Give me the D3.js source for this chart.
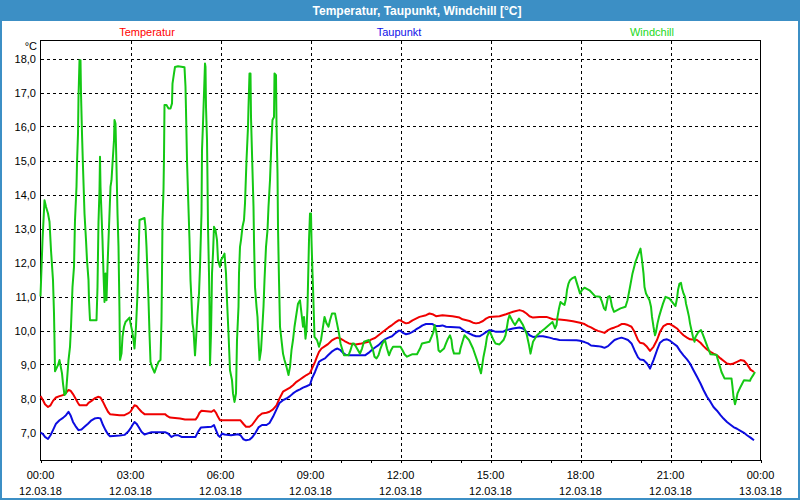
<!DOCTYPE html>
<html><head><meta charset="utf-8">
<script src="https://cdn.jsdelivr.net/npm/d3@7"></script>
<style>html,body{margin:0;padding:0;background:#fff;}svg{display:block;}</style>
</head><body>
<script>
// ---- DATA (time in minutes since 12.03.18 00:00, value in °C) ----
const temperatur = [[0,8.07],[5,7.95],[9,7.83],[15,7.75],[20,7.80],[25,7.93],[31,8.03],[38,8.07],[45,8.10],[51,8.17],[56,8.25],[60,8.23],[65,8.13],[70,8.00],[75,7.87],[78,7.80],[92,7.80],[96,7.87],[102,7.93],[108,8.00],[115,8.05],[120,8.03],[125,7.90],[130,7.75],[135,7.61],[139,7.54],[158,7.51],[168,7.51],[175,7.56],[180,7.61],[184,7.71],[188,7.80],[192,7.78],[196,7.71],[202,7.61],[208,7.54],[249,7.54],[254,7.48],[259,7.44],[279,7.41],[289,7.38],[310,7.38],[314,7.46],[318,7.58],[322,7.64],[342,7.61],[347,7.66],[351,7.58],[355,7.46],[359,7.36],[368,7.36],[400,7.36],[406,7.25],[411,7.17],[418,7.17],[423,7.22],[430,7.36],[436,7.48],[443,7.56],[452,7.58],[458,7.61],[465,7.68],[472,7.80],[478,8.00],[485,8.20],[492,8.26],[499,8.32],[505,8.39],[512,8.49],[519,8.56],[525,8.62],[532,8.69],[539,8.75],[543,8.88],[549,9.08],[553,9.23],[557,9.37],[562,9.47],[569,9.54],[575,9.60],[582,9.70],[589,9.76],[594,9.79],[600,9.76],[605,9.72],[610,9.67],[617,9.62],[630,9.59],[642,9.62],[656,9.67],[662,9.74],[669,9.78],[676,9.86],[683,9.94],[689,10.01],[696,10.09],[703,10.16],[709,10.23],[716,10.30],[720,10.30],[725,10.25],[731,10.21],[737,10.23],[744,10.30],[751,10.35],[758,10.40],[771,10.45],[778,10.50],[784,10.48],[791,10.42],[804,10.45],[824,10.42],[838,10.38],[844,10.33],[858,10.28],[865,10.23],[871,10.21],[878,10.23],[885,10.28],[891,10.35],[898,10.40],[918,10.42],[931,10.48],[945,10.55],[958,10.60],[965,10.57],[972,10.50],[978,10.42],[985,10.38],[998,10.40],[1012,10.40],[1025,10.33],[1038,10.32],[1052,10.30],[1065,10.27],[1079,10.23],[1088,10.19],[1095,10.13],[1101,10.09],[1108,10.03],[1115,9.99],[1122,9.96],[1128,9.93],[1135,10.01],[1142,10.06],[1148,10.09],[1155,10.13],[1162,10.19],[1168,10.19],[1175,10.16],[1182,10.11],[1188,9.96],[1195,9.72],[1199,9.64],[1206,9.62],[1213,9.52],[1219,9.40],[1226,9.52],[1233,9.72],[1239,9.96],[1246,10.13],[1253,10.19],[1259,10.19],[1266,10.13],[1273,10.06],[1279,9.96],[1286,9.86],[1293,9.79],[1299,9.74],[1313,9.72],[1320,9.64],[1326,9.54],[1333,9.44],[1340,9.37],[1346,9.32],[1353,9.27],[1360,9.18],[1366,9.11],[1373,9.03],[1380,9.01],[1386,9.03],[1393,9.08],[1400,9.13],[1407,9.11],[1413,9.01],[1420,8.85],[1427,8.78]];

const taupunkt = [[0,7.00],[5,6.95],[9,6.87],[15,6.81],[20,6.92],[25,7.07],[31,7.26],[38,7.36],[45,7.43],[51,7.51],[56,7.61],[60,7.51],[65,7.31],[70,7.19],[76,7.07],[82,7.09],[88,7.17],[95,7.26],[102,7.36],[108,7.41],[115,7.43],[120,7.41],[125,7.22],[130,7.07],[135,6.95],[139,6.89],[158,6.91],[168,6.93],[175,7.02],[180,7.12],[184,7.22],[188,7.31],[192,7.26],[196,7.17],[202,7.02],[208,6.94],[222,7.01],[249,7.01],[255,6.97],[262,6.87],[269,6.92],[275,6.92],[282,6.87],[310,6.87],[315,7.02],[321,7.15],[342,7.17],[347,7.22],[351,7.07],[355,6.92],[359,6.87],[363,6.97],[368,6.94],[381,6.92],[395,6.95],[400,6.92],[406,6.80],[411,6.77],[418,6.79],[423,6.85],[430,6.99],[436,7.15],[443,7.22],[452,7.22],[458,7.28],[465,7.46],[472,7.68],[478,7.87],[485,7.95],[492,8.00],[499,8.07],[505,8.15],[512,8.22],[519,8.27],[525,8.32],[532,8.36],[539,8.41],[543,8.59],[549,8.78],[553,8.93],[557,9.08],[562,9.13],[569,9.18],[575,9.27],[582,9.37],[589,9.44],[594,9.47],[600,9.42],[605,9.34],[610,9.29],[617,9.27],[649,9.27],[656,9.34],[662,9.42],[669,9.50],[676,9.57],[683,9.67],[689,9.74],[696,9.79],[703,9.83],[709,9.91],[716,9.99],[720,9.99],[725,9.93],[731,9.89],[737,9.91],[744,9.96],[751,10.03],[758,10.09],[764,10.15],[771,10.19],[784,10.19],[791,10.13],[798,10.13],[804,10.15],[811,10.11],[838,10.09],[844,10.03],[851,9.96],[858,9.91],[865,9.86],[871,9.83],[878,9.83],[885,9.89],[891,9.95],[898,10.01],[905,9.99],[911,9.96],[925,9.96],[931,10.01],[945,10.06],[958,10.09],[965,10.06],[972,9.96],[978,9.86],[985,9.81],[998,9.83],[1005,9.83],[1012,9.81],[1018,9.79],[1025,9.76],[1032,9.74],[1038,9.72],[1072,9.71],[1079,9.70],[1088,9.66],[1095,9.62],[1101,9.56],[1115,9.54],[1122,9.52],[1128,9.49],[1135,9.54],[1142,9.64],[1148,9.72],[1155,9.76],[1162,9.79],[1168,9.76],[1175,9.72],[1182,9.62],[1188,9.42],[1195,9.21],[1199,9.15],[1206,9.13],[1213,9.03],[1219,8.88],[1226,9.13],[1233,9.42],[1239,9.64],[1246,9.72],[1253,9.74],[1259,9.70],[1266,9.62],[1273,9.54],[1279,9.40],[1286,9.27],[1293,9.15],[1299,9.03],[1306,8.83],[1313,8.64],[1320,8.44],[1326,8.25],[1333,8.05],[1340,7.90],[1346,7.75],[1353,7.64],[1360,7.51],[1366,7.41],[1373,7.31],[1380,7.23],[1386,7.16],[1393,7.11],[1400,7.05],[1407,6.99],[1413,6.92],[1420,6.85],[1427,6.77]];

const windchill = [[0,11.0],[4,12.66],[8,13.83],[11,13.64],[15,13.44],[18,13.20],[21,12.36],[25,11.48],[27,10.50],[28,9.72],[29,8.80],[35,8.98],[38,9.13],[43,8.74],[45,8.44],[48,8.10],[51,8.15],[53,8.54],[56,9.13],[59,9.52],[61,10.11],[64,11.28],[67,11.87],[69,13.25],[72,14.23],[73,14.91],[75,15.79],[76,16.87],[78,17.95],[80,17.95],[81,16.97],[83,15.79],[85,14.81],[88,13.44],[91,12.66],[93,12.07],[96,11.48],[97,10.89],[99,10.30],[112,10.30],[114,11.28],[115,12.26],[116,13.20],[118,14.13],[119,15.11],[120,14.23],[122,13.44],[124,12.66],[126,11.68],[128,10.84],[130,11.68],[132,10.89],[134,11.87],[136,12.66],[138,13.44],[140,14.23],[142,14.42],[144,14.91],[147,15.60],[148,16.19],[150,16.09],[152,14.81],[154,13.44],[156,12.46],[158,10.55],[159,9.13],[162,9.32],[164,9.81],[167,10.11],[170,10.25],[178,10.38],[180,10.21],[183,10.01],[186,9.72],[188,9.47],[191,10.11],[194,11.09],[196,12.17],[198,13.25],[208,13.31],[210,13.05],[212,12.46],[214,11.68],[216,10.89],[218,9.91],[220,9.08],[223,8.93],[228,8.76],[232,8.93],[236,9.08],[240,9.13],[242,10.30],[243,11.68],[244,13.25],[246,14.13],[247,15.11],[248,16.63],[252,16.63],[256,16.53],[260,16.53],[263,16.68],[264,17.26],[267,17.56],[269,17.75],[275,17.77],[288,17.74],[290,17.17],[291,16.48],[293,15.01],[295,14.03],[298,12.66],[300,11.48],[302,10.89],[304,10.21],[306,10.01],[309,9.27],[311,9.72],[314,10.50],[317,11.09],[319,11.87],[322,13.44],[323,15.30],[325,16.09],[327,16.97],[329,17.85],[330,17.75],[331,16.58],[333,15.60],[334,14.42],[335,13.05],[337,11.68],[338,10.70],[339,8.98],[341,9.91],[342,10.70],[343,11.68],[345,12.26],[347,13.05],[350,12.95],[353,12.66],[355,12.07],[359,11.87],[361,12.07],[365,12.17],[368,12.26],[371,11.68],[373,10.89],[376,9.91],[379,8.83],[383,8.54],[385,8.15],[388,7.90],[391,8.15],[393,9.72],[396,10.70],[397,11.68],[399,12.46],[401,12.66],[404,13.05],[407,13.25],[409,13.74],[412,15.01],[415,15.99],[416,16.58],[418,17.56],[420,17.56],[421,16.28],[423,15.21],[426,13.64],[427,12.66],[429,11.28],[432,10.70],[434,10.40],[436,9.72],[438,9.13],[441,9.42],[443,9.91],[446,10.70],[448,11.48],[451,12.46],[454,12.95],[456,13.64],[459,14.42],[462,15.60],[464,16.19],[467,16.28],[468,17.56],[471,17.51],[472,16.09],[474,14.62],[475,13.05],[477,11.48],[479,10.11],[482,9.72],[485,9.32],[488,9.13],[492,8.93],[496,8.69],[499,8.93],[502,9.42],[505,9.72],[508,10.11],[512,10.50],[515,10.79],[519,10.89],[522,10.50],[525,10.11],[527,10.40],[530,9.76],[532,10.01],[534,10.70],[537,12.66],[539,13.44],[541,13.44],[542,12.66],[544,11.68],[545,11.28],[548,9.81],[553,9.72],[557,9.52],[561,9.72],[564,10.01],[568,10.40],[572,10.21],[576,10.11],[579,10.30],[583,10.50],[589,10.50],[593,10.21],[597,9.91],[600,9.62],[604,9.42],[607,9.27],[616,9.27],[620,9.42],[624,9.62],[627,9.62],[631,9.52],[639,9.32],[643,9.47],[647,9.67],[657,9.72],[661,9.57],[665,9.42],[668,9.23],[672,9.18],[676,9.27],[680,9.47],[684,9.62],[689,9.72],[693,9.47],[697,9.27],[701,9.42],[705,9.52],[717,9.52],[720,9.52],[724,9.42],[728,9.30],[733,9.23],[743,9.30],[753,9.30],[759,9.47],[763,9.62],[778,9.67],[782,9.81],[786,9.96],[788,10.16],[791,10.01],[794,9.72],[796,9.42],[799,9.37],[807,9.47],[811,9.62],[815,9.76],[819,9.86],[822,9.72],[824,9.47],[827,9.32],[838,9.32],[840,9.47],[844,9.67],[848,9.86],[857,9.72],[865,9.47],[873,9.13],[881,8.74],[883,8.93],[886,9.23],[890,9.52],[893,9.81],[897,9.96],[899,9.96],[906,9.72],[910,9.62],[918,9.59],[926,9.72],[930,9.86],[933,10.11],[935,10.30],[938,10.45],[945,10.25],[949,10.16],[957,10.35],[965,10.16],[972,9.91],[977,9.57],[980,9.32],[985,9.67],[993,9.86],[1001,9.96],[1009,10.06],[1017,10.16],[1024,10.25],[1029,10.06],[1032,10.16],[1034,10.40],[1037,10.65],[1040,10.84],[1044,10.79],[1048,10.75],[1051,10.94],[1053,11.19],[1056,11.38],[1059,11.48],[1063,11.53],[1069,11.58],[1072,11.43],[1076,11.24],[1079,11.09],[1083,11.19],[1088,11.26],[1099,11.17],[1109,11.01],[1119,10.99],[1123,10.84],[1127,10.65],[1130,10.60],[1135,10.99],[1138,11.01],[1140,10.94],[1143,10.70],[1147,10.55],[1160,10.65],[1170,10.70],[1174,10.89],[1179,11.28],[1184,11.68],[1190,12.02],[1195,12.22],[1200,12.41],[1203,12.07],[1206,11.68],[1208,11.28],[1211,11.09],[1218,10.89],[1221,10.70],[1223,10.40],[1226,10.11],[1229,9.86],[1231,9.96],[1234,10.21],[1237,10.40],[1241,10.60],[1245,10.79],[1250,10.99],[1258,10.94],[1266,10.79],[1270,10.72],[1273,10.94],[1275,11.19],[1278,11.38],[1281,11.40],[1283,11.24],[1286,11.09],[1289,10.99],[1291,10.79],[1294,10.60],[1297,10.40],[1299,10.21],[1302,10.01],[1305,9.81],[1308,9.67],[1310,9.81],[1316,9.96],[1321,10.01],[1324,9.91],[1329,9.72],[1334,9.52],[1340,9.30],[1352,9.29],[1354,9.18],[1357,9.03],[1360,8.88],[1362,8.78],[1368,8.59],[1382,8.59],[1384,8.34],[1386,8.05],[1389,7.83],[1392,8.00],[1394,8.15],[1400,8.34],[1407,8.54],[1419,8.52],[1421,8.59],[1425,8.68],[1429,8.78]];

const seriesNames = ["Temperatur", "Taupunkt", "Windchill"];
const xTickMinutes = [0, 180, 360, 540, 720, 900, 1080, 1260, 1440];
const xTickTimes = ["00:00","03:00","06:00","09:00","12:00","15:00","18:00","21:00","00:00"];
const xTickDates = ["12.03.18","12.03.18","12.03.18","12.03.18","12.03.18","12.03.18","12.03.18","12.03.18","13.03.18"];
const yTicks = [7,8,9,10,11,12,13,14,15,16,17,18];
const titleText = "Temperatur, Taupunkt, Windchill [°C]";
const unitLabel = "°C";

// ---- DRAWING ----
const W = 800, H = 500;
const FONT = "'Liberation Sans', Arial, sans-serif";
const frameBlue = "#3c8fc5";
const colors = { Temperatur: "#f00000", Taupunkt: "#0c0ce0", Windchill: "#14c814" };
const legendColors = { Temperatur: "#ff0000", Taupunkt: "#1010e8", Windchill: "#22d822" };

const svg = d3.select("body").append("svg").attr("width", W).attr("height", H);
svg.append("rect").attr("width", W).attr("height", H).attr("fill", "#ffffff");

// window frame + title bar
svg.append("rect").attr("x", 0).attr("y", 0).attr("width", W).attr("height", 21).attr("fill", frameBlue);
svg.append("rect").attr("x", 1).attr("y", 1).attr("width", W - 2).attr("height", H - 2)
  .attr("fill", "none").attr("stroke", frameBlue).attr("stroke-width", 2);
svg.append("text").attr("x", 417).attr("y", 14.5).attr("text-anchor", "middle")
  .attr("font-family", FONT).attr("font-weight", "bold").attr("font-size", 12).attr("fill", "#ffffff")
  .text(titleText);

const x = d3.scaleLinear().domain([0, 1440]).range([40.5, 760.5]);
const y = d3.scaleLinear().domain([7, 18]).range([432.5, 58.5]);
const plotTop = 40.5, plotBottom = 460.5;

// legend
const legendX = [147, 399, 652];
seriesNames.forEach((n, i) => {
  svg.append("text").attr("x", legendX[i]).attr("y", 36).attr("text-anchor", "middle")
    .attr("font-family", FONT).attr("font-size", 11).attr("fill", legendColors[n]).text(n);
});

// grid
const grid = svg.append("g").attr("stroke", "#000").attr("stroke-width", 1)
  .attr("stroke-dasharray", "3,3").attr("shape-rendering", "crispEdges");
yTicks.forEach(v => {
  grid.append("line").attr("x1", x(0)).attr("x2", x(1440)).attr("y1", Math.round(y(v)) + 0.5).attr("y2", Math.round(y(v)) + 0.5);
});
xTickMinutes.slice(1, -1).forEach(m => {
  grid.append("line").attr("x1", Math.round(x(m)) + 0.5).attr("x2", Math.round(x(m)) + 0.5).attr("y1", plotTop).attr("y2", plotBottom);
});

// frame of plot
svg.append("rect").attr("x", x(0)).attr("y", plotTop).attr("width", x(1440) - x(0)).attr("height", plotBottom - plotTop)
  .attr("fill", "none").attr("stroke", "#000").attr("stroke-width", 1).attr("shape-rendering", "crispEdges");

// x axis (hourly ticks below)
const xAxis = d3.axisBottom(x).tickValues(d3.range(0, 1441, 60)).tickSize(3).tickFormat("");
const xg = svg.append("g").attr("transform", `translate(0,${plotBottom - 0.5})`).call(xAxis);
xg.select(".domain").remove();
xg.selectAll("line").attr("stroke", "#000").attr("shape-rendering", "crispEdges");

xTickMinutes.forEach((m, i) => {
  svg.append("text").attr("x", x(m)).attr("y", 479).attr("text-anchor", "middle")
    .attr("font-family", FONT).attr("font-size", 11).attr("fill", "#000").text(xTickTimes[i]);
  svg.append("text").attr("x", x(m)).attr("y", 495).attr("text-anchor", "middle")
    .attr("font-family", FONT).attr("font-size", 11).attr("fill", "#000").text(xTickDates[i]);
});

// y labels
const fmt = v => d3.format(".1f")(v).replace(".", ",");
yTicks.forEach(v => {
  svg.append("text").attr("x", 36).attr("y", y(v) + 4).attr("text-anchor", "end")
    .attr("font-family", FONT).attr("font-size", 11).attr("fill", "#000").text(fmt(v));
});
svg.append("text").attr("x", 37).attr("y", 50).attr("text-anchor", "end")
  .attr("font-family", FONT).attr("font-size", 11).attr("fill", "#000").text(unitLabel);

// lines
const line = d3.line().x(d => x(d[0])).y(d => y(d[1]));
const seriesData = { Temperatur: temperatur, Taupunkt: taupunkt, Windchill: windchill };
["Temperatur", "Taupunkt", "Windchill"].forEach(n => {
  svg.append("path").datum(seriesData[n]).attr("d", line).attr("fill", "none")
    .attr("stroke", colors[n]).attr("stroke-width", 2).attr("stroke-linejoin", "round");
});
</script>
</body></html>
